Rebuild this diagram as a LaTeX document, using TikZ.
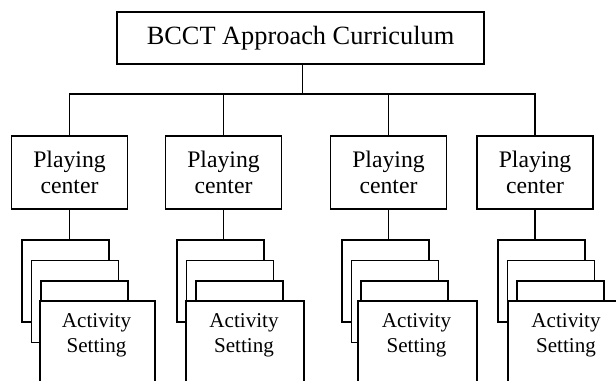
\documentclass[tikz,border=0pt]{standalone}
\usepackage{fontspec}
\setmainfont{Liberation Serif}
\usetikzlibrary{positioning}

\begin{document}
\begin{tikzpicture}
            \tikzset{box/.style = {shape=rectangle,draw,line width=1.1pt,align=center}}
            \tikzset{card/.style = {box,fill=white,anchor=north west,inner sep=0pt,minimum width=1.74cm,minimum height=1.64cm}}
            \tikzset{front/.style = {box,fill=white,anchor=north west,inner sep=0pt,minimum height=2.2cm}}
            \tikzset{edge/.style = {line width=1.1pt}}
            \path[use as bounding box, clip] (0,0) rectangle (12.32,-7.62);

            \node[box, minimum width=7.34cm, minimum height=1.04cm, font=\fontsize{15}{18}\selectfont] (top) at (6.01,-0.76) {BCCT Approach Curriculum};
            \tikzset{play/.style = {box, minimum width=2.32cm, minimum height=1.46cm, font=\fontsize{13.5}{14.8}\selectfont}}
            \node[play] (p1) at (1.39,-3.45) {Playing\\center};
            \node[play] (p2) at (4.47,-3.45) {Playing\\center};
            \node[play] (p3) at (7.77,-3.45) {Playing\\center};
            \node[play] (p4) at (10.70,-3.45) {Playing\\center};
            \coordinate (bus) at (6.05,-1.88);

            \foreach \i/\l/\f/\w in {1/0.42/0.78/2.30, 2/3.52/3.70/2.36, 3/6.82/7.14/2.38, 4/9.94/10.14/2.36} {
                \node[card] (sa\i) at (\l,-4.78) {};
                \node[card] (sb\i) at (\l+0.19,-5.19) {};
                \node[card] (sc\i) at (\l+0.38,-5.60) {};
                \node[front, minimum width=\w cm] (f\i) at (\f,-6.0) {};
                \node[align=center, font=\fontsize{12}{14.2}\selectfont] (a\i) at ({\f+\w/2},-6.70) {Activity\\Setting};
                \draw[edge] (p\i.south) -- (p\i.south |- sa\i.north);
            }

            \draw[edge] (top.south -| bus) -- (bus);
            \draw[edge] (p1.north) |- (bus) -| (p4.north);
            \draw[edge] (p2.north) -- (p2.north |- bus);
            \draw[edge] (p3.north) -- (p3.north |- bus);
        \end{tikzpicture}
\end{document}
